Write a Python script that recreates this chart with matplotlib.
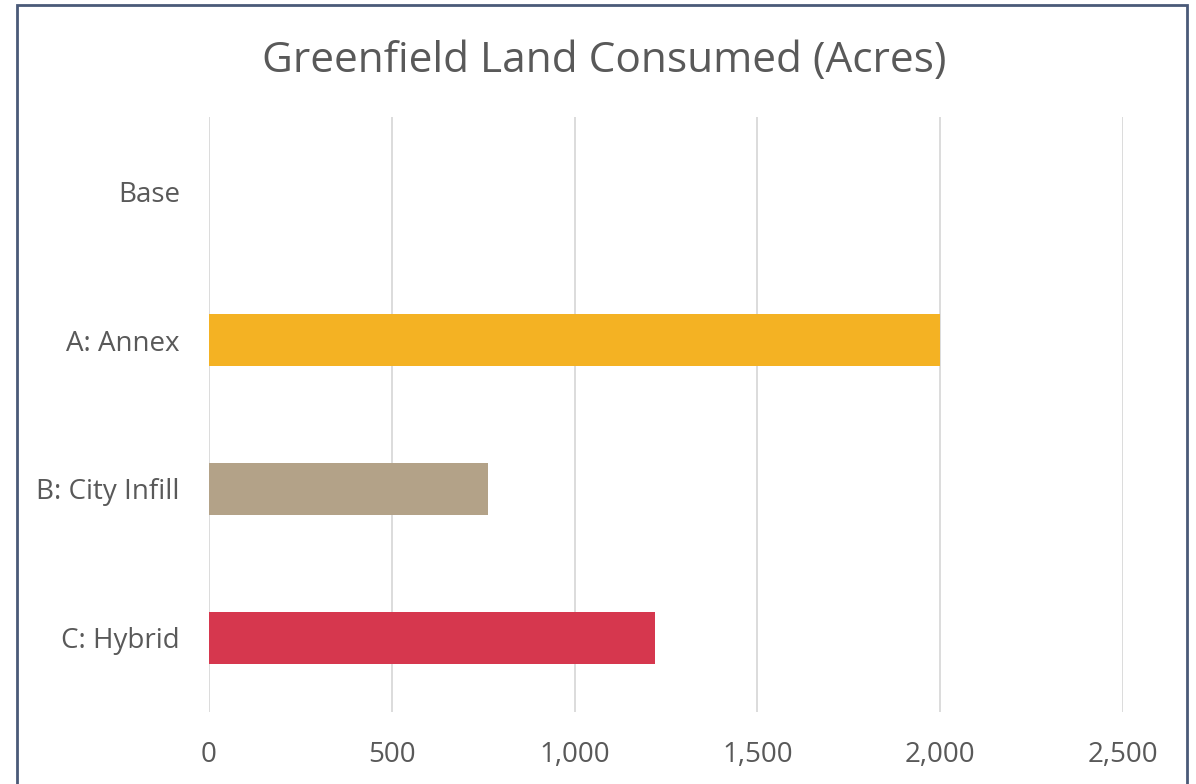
import matplotlib
matplotlib.use('Agg')
import matplotlib.pyplot as plt
from matplotlib.patches import Rectangle
from matplotlib.ticker import FuncFormatter

plt.rcParams['font.family'] = ['Open Sans', 'DejaVu Sans']

scenarios = ['Base', 'A: Annex', 'B: City Infill', 'C: Hybrid']
acres = [0, 2000, 763, 1220]
colors = ['#F4B223', '#F4B223', '#B3A288', '#D6374E']
ticks = [0, 500, 1000, 1500, 2000, 2500]

fig = plt.figure(figsize=(11.96, 7.84), dpi=100)
ax = fig.add_axes([0.1747, 0.0918, 0.7642, 0.759])

pos = list(range(len(scenarios)))
ax.barh(pos, acres, height=0.35, color=colors, zorder=2)
ax.set_ylim(3.5, -0.5)
ax.set_xlim(0, 2500)
ax.set_yticks(pos)
ax.set_yticklabels(scenarios)
ax.set_xticks(ticks)
ax.xaxis.set_major_formatter(FuncFormatter(lambda v, p: f'{int(v):,}'))
ax.tick_params(length=0, labelsize=20, colors='#595959')
ax.tick_params(axis='x', pad=21)
ax.tick_params(axis='y', pad=21)
ax.xaxis.grid(True, color='#D9D9D9', linewidth=1.3, zorder=0)
for s in ax.spines.values():
    s.set_visible(False)

fig.text(0.505, 0.922, 'Greenfield Land Consumed (Acres)', ha='center', va='center',
         fontsize=30.5, color='#595959')

# outer frame around the chart
fig.patches.append(Rectangle((17 / 1196, -0.05), 1170 / 1196, 1.05 - 5 / 784,
                             transform=fig.transFigure, fill=False,
                             edgecolor='#4A5A78', linewidth=2))

fig.savefig('out.png', dpi=100)
